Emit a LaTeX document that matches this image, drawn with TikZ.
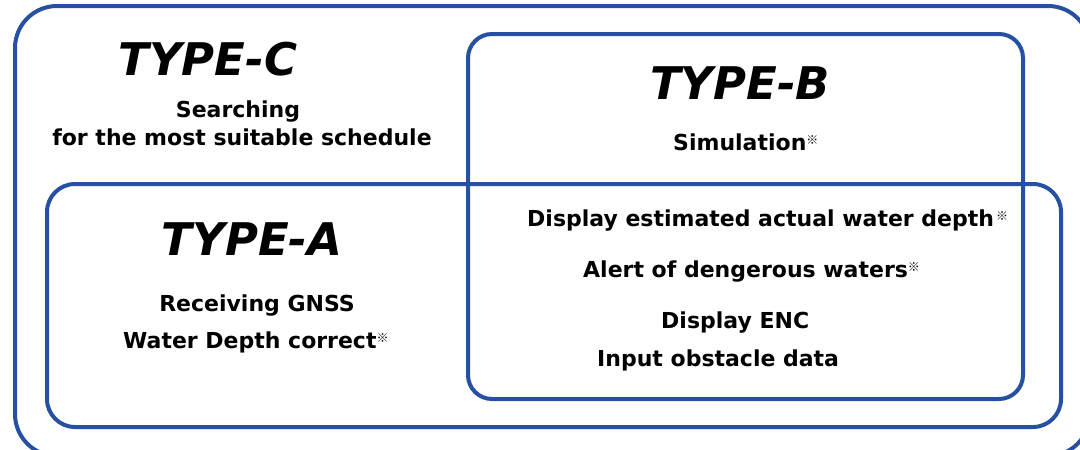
\documentclass[tikz,border=0pt]{standalone}
\usepackage{fontspec}
\setmainfont{DejaVu Sans}
\newfontfamily\cjk{Noto Sans CJK JP}
\definecolor{frameblue}{RGB}{38,80,162}
\newcommand\kome{\raisebox{6pt}{\fontsize{12pt}{12pt}\selectfont\cjk ※}}
\begin{document}
\begin{tikzpicture}[x=1pt,y=-1pt,
  frame/.style={draw=frameblue,line width=4pt},
  title/.style={inner sep=0pt,font=\fontsize{45pt}{45pt}\selectfont\bfseries\itshape},
  item/.style={inner sep=0pt,font=\fontsize{22pt}{22pt}\selectfont\bfseries}]
\useasboundingbox (0,0) rectangle (1080,450);
\clip (0,0) rectangle (1080,450);
\fill[white] (0,0) rectangle (1080,450);
% outer TYPE-C frame
\draw[frame,rounded corners=42pt] (15,6) rectangle (1090,456);
% TYPE-A frame
\draw[frame,rounded corners=28pt] (47,184) rectangle (1061,427);
% TYPE-B frame
\draw[frame,rounded corners=24pt] (468,34) rectangle (1023,399);
% texts
\node[title,anchor=base] (tc) at (208,75) {TYPE-C};
\node[item,anchor=base] (c1) at (238,117) {Searching};
\node[item,anchor=base] (c2) at (242,145) {for the most suitable schedule};
\node[title,anchor=base] (tb) at (740,99) {TYPE-B};
\node[item,anchor=base west] (b1) at (673,150) {Simulation\kome};
\node[title,anchor=base] (ta) at (252,255) {TYPE-A};
\node[item,anchor=base] (a1) at (257,311) {Receiving GNSS};
\node[item,anchor=base west] (a2) at (123,348) {Water Depth correct\kome};
\node[item,anchor=base west] (ab1) at (527,226) {Display estimated actual water depth\kern2pt\kome};
\node[item,anchor=base west] (ab2) at (583,277) {Alert of dengerous waters\kome};
\node[item,anchor=base west] (ab3) at (661,328) {Display ENC};
\node[item,anchor=base west] (ab4) at (597,366) {Input obstacle data};
\end{tikzpicture}
\end{document}
